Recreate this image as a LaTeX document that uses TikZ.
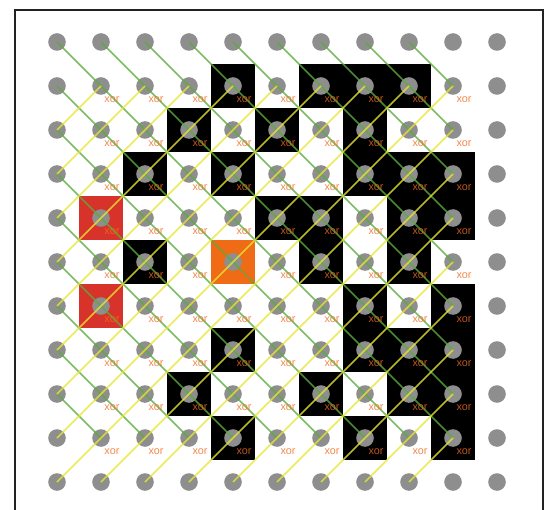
\documentclass[tikz,border=0pt]{standalone}
\usepackage{fontspec}
\setsansfont{Liberation Sans}
\definecolor{dotgray}{HTML}{8E8E8E}
\definecolor{lgreen}{HTML}{5AAC3C}
\definecolor{lyellow}{HTML}{E6E632}
\definecolor{xorc}{HTML}{F26A1E}
\definecolor{cellred}{HTML}{D8332A}
\definecolor{cellorange}{HTML}{EF6B16}
\definecolor{framec}{HTML}{222222}
\begin{document}
\begin{tikzpicture}[x=1pt,y=-1pt,
  dot/.style={circle,fill=dotgray,minimum size=17.6pt,inner sep=0pt},
  gline/.style={draw=lgreen,line width=1.7pt,opacity=0.8},
  yline/.style={draw=lyellow,line width=1.7pt,opacity=0.8},
  xorlab/.style={text=xorc,text opacity=0.8,font=\sffamily\fontsize{10.8}{12}\selectfont,inner sep=0pt}
]
\useasboundingbox (0,0) rectangle (548,510);
\fill[white] (0,0) rectangle (548,510);
\begin{scope}
\clip (0,0) rectangle (548,510);
\draw[line width=2pt,draw=framec] (15,520) -- (15,10) -- (543,10) -- (543,520);
\end{scope}
% black cells
\foreach \c/\r in {4/1,6/1,7/1,8/1,
                   3/2,5/2,7/2,
                   2/3,4/3,7/3,8/3,9/3,
                   5/4,6/4,8/4,9/4,
                   2/5,6/5,8/5,
                   7/6,9/6,
                   4/7,7/7,8/7,9/7,
                   3/8,6/8,8/8,9/8,
                   4/9,7/9,9/9}
  \fill[black] ({57+44*\c-22},{42+44*\r-22}) rectangle ++(44,44);
% red cells
\foreach \c/\r in {1/4,1/6}
  \fill[cellred] ({57+44*\c-22},{42+44*\r-22}) rectangle ++(44,44);
% orange cell
\fill[cellorange] ({57+44*4-22},{42+44*5-22}) rectangle ++(44,44);
% dots
\foreach \c in {0,...,10}
  \foreach \r in {0,...,10}
    \node[dot] (d-\c-\r) at ({57+44*\c},{42+44*\r}) {};
% green lines (down-right)
\foreach \c in {0,...,8}
  \foreach \r in {0,...,8} {
    \pgfmathtruncatemacro\cc{\c+1}
    \pgfmathtruncatemacro\rr{\r+1}
    \draw[gline] (d-\c-\r.center) -- (d-\cc-\rr.center);
  }
% yellow lines (up-right)
\foreach \c in {0,...,8}
  \foreach \r in {2,...,10} {
    \pgfmathtruncatemacro\cc{\c+1}
    \pgfmathtruncatemacro\rr{\r-1}
    \draw[yline] (d-\c-\r.center) -- (d-\cc-\rr.center);
  }
% xor labels
\foreach \c in {1,...,9}
  \foreach \r in {1,...,9}
    \node[xorlab] (x-\c-\r) at ({57+44*\c+11},{42+44*\r+14}) {xor};
\end{tikzpicture}
\end{document}
